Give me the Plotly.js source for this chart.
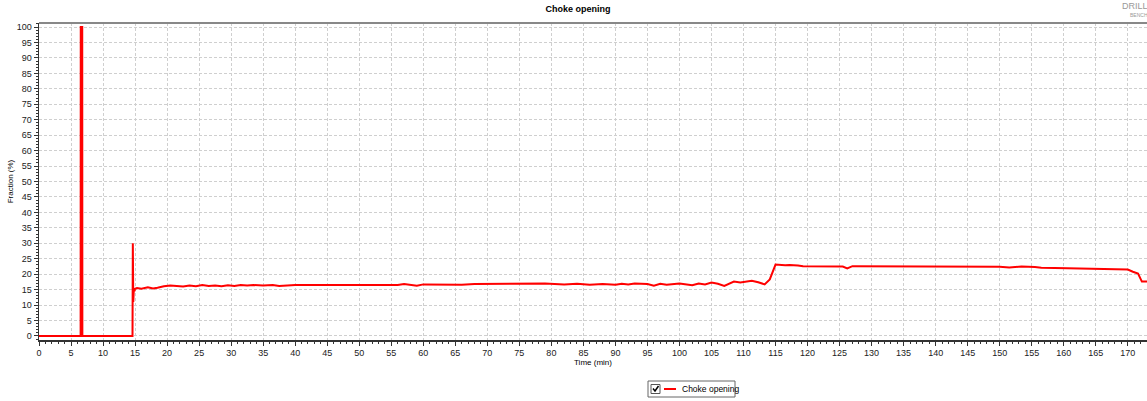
<!DOCTYPE html>
<html>
<head>
<meta charset="utf-8">
<script src="https://cdn.plot.ly/plotly-3.0.1.min.js"></script>
<style>html,body{margin:0;padding:0;background:#fff;}#chart{width:1147px;height:401px;}</style>
</head>
<body>
<div id="chart"></div>
<script>
const timeMin = [0, 6.5, 6.52, 6.75, 6.77, 14.6, 14.65, 14.72, 14.8, 14.9, 15.0, 15.3, 16.0, 17.0, 17.8, 18.5, 19.5, 20.5, 21.5, 22.5, 23.5, 24.5, 25.5, 26.5, 27.5, 28.5, 29.5, 30.5, 31.5, 32.5, 33.5, 35, 36.5, 37.5, 40, 45, 46.5, 47.5, 50, 53, 54, 56, 57, 58, 59, 60, 62, 64, 65, 66, 68, 70, 75, 78, 79, 82, 84, 86, 88, 90, 91, 92, 93, 95, 96, 97, 98, 100, 101, 102, 103, 104, 105, 106, 107, 107.8, 108.5, 109.5, 110.5, 111.3, 112.3, 113.3, 114.1, 115.0, 116.5, 117.2, 118.5, 119.3, 125.5, 126.2, 127.0, 135, 139.4, 140.2, 145, 150, 151.5, 153.4, 155.5, 156.5, 160.6, 165.9, 166.5, 170, 170.8, 171.6, 172.2, 173];
const choke  = [0, 0, 100, 100, 0, 0, 30, 11, 15, 14.5, 15.3, 15.5, 15.3, 15.8, 15.4, 15.6, 16.1, 16.3, 16.1, 16.0, 16.3, 16.1, 16.5, 16.2, 16.3, 16.1, 16.4, 16.2, 16.5, 16.3, 16.5, 16.3, 16.5, 16.2, 16.5, 16.5, 16.7, 16.5, 16.5, 16.5, 16.7, 16.5, 16.8, 16.5, 16.3, 16.7, 16.6, 16.7, 16.5, 16.6, 16.8, 16.8, 16.8, 16.8, 17.0, 16.7, 16.9, 16.6, 16.8, 16.6, 16.9, 16.7, 17.0, 16.8, 16.3, 16.9, 16.6, 17.0, 16.8, 16.4, 17.0, 16.7, 17.3, 16.9, 16.2, 17.0, 17.6, 17.3, 17.5, 17.9, 17.4, 16.7, 18.3, 23.1, 22.9, 23.0, 22.8, 22.6, 22.5, 21.9, 22.6, 22.6, 22.6, 22.4, 22.4, 22.4, 22.2, 22.5, 22.3, 22.1, 21.9, 21.8, 21.6, 21.5, 20.8, 20.2, 17.6, 17.6];
const seriesName = 'Choke opening';

const traces = [{
  x: timeMin, y: choke, type: 'scatter', mode: 'lines', name: seriesName,
  line: {color: '#ff0000', width: 2}, showlegend: false
}];

const fam = 'Liberation Sans, Arial, sans-serif';
const axisFont = {family: fam, size: 9, color: '#222'};

const layout = {
  width: 1147, height: 401,
  margin: {l: 39, r: 0, t: 23, b: 61, autoexpand: false},
  paper_bgcolor: '#ffffff', plot_bgcolor: '#ffffff',
  title: {text: '<b>Choke opening</b>', font: {family: fam, size: 9, color: '#000'}, x: 0.504, xanchor: 'center', y: 0.985, yanchor: 'top'},
  showlegend: false,
  xaxis: {
    range: [0, 173], dtick: 5, tick0: 0, showgrid: true, gridcolor: '#cfcfcf', griddash: '3px,2px', gridwidth: 1,
    zeroline: false, showline: true, linecolor: '#333', linewidth: 1.5, ticks: 'outside', ticklen: 4, tickcolor: '#333',
    minor: {dtick: 1, ticks: 'outside', ticklen: 2, tickcolor: '#333', showgrid: false},
    tickfont: axisFont, automargin: false,
    title: {text: 'Time (min)', font: {family: fam, size: 8, color: '#000'}, standoff: 2}
  },
  yaxis: {
    range: [-1.3, 101.3], dtick: 5, tick0: 0, showgrid: true, gridcolor: '#cfcfcf', griddash: '3px,2px', gridwidth: 1,
    zeroline: false, showline: true, linecolor: '#333', linewidth: 1.5, ticks: 'outside', ticklen: 4, tickcolor: '#333',
    minor: {dtick: 1, ticks: 'outside', ticklen: 2, tickcolor: '#333', showgrid: false},
    tickfont: axisFont, automargin: false,
    title: {text: 'Fraction (%)', font: {family: fam, size: 8, color: '#000'}, standoff: 2}
  },
  shapes: [
    {type: 'line', xref: 'paper', yref: 'paper', x0: 0, x1: 1, y0: 1, y1: 1, line: {color: '#888', width: 2}},
    {type: 'rect', xref: 'paper', yref: 'paper', x0: (648-39)/1108, x1: (735-39)/1108, y0: (340-397)/317, y1: (340-381)/317, line: {color: '#666', width: 1}, fillcolor: '#fff'},
    {type: 'rect', xref: 'paper', yref: 'paper', x0: (651-39)/1108, x1: (660-39)/1108, y0: (340-393.5)/317, y1: (340-384.5)/317, line: {color: '#555', width: 1}, fillcolor: '#fff'},
    {type: 'path', xref: 'paper', yref: 'paper',
     path: 'M ' + (653-39)/1108 + ' ' + (340-388.5)/317 + ' L ' + (655-39)/1108 + ' ' + (340-391)/317 + ' L ' + (658.5-39)/1108 + ' ' + (340-386)/317,
     line: {color: '#000', width: 1.5}},
    {type: 'line', xref: 'paper', yref: 'paper', x0: (664-39)/1108, x1: (676-39)/1108, y0: (340-389)/317, y1: (340-389)/317, line: {color: '#ff0000', width: 2}}
  ],
  annotations: [
    {text: seriesName, xref: 'paper', yref: 'paper', x: (680-39)/1108, y: (340-389)/317, xanchor: 'left', yanchor: 'middle', showarrow: false, font: {family: fam, size: 8.5, color: '#000'}},
    {text: 'DRILL', xref: 'paper', yref: 'paper', x: 1.003, y: 1.055, xanchor: 'right', yanchor: 'middle', showarrow: false, font: {family: fam, size: 9, color: '#999'}},
    {text: 'BENCH', xref: 'paper', yref: 'paper', x: 1.003, y: 1.025, xanchor: 'right', yanchor: 'middle', showarrow: false, font: {family: fam, size: 5, color: '#999'}}
  ]
};

Plotly.newPlot('chart', traces, layout, {displayModeBar: false, staticPlot: true});
</script>
</body>
</html>
